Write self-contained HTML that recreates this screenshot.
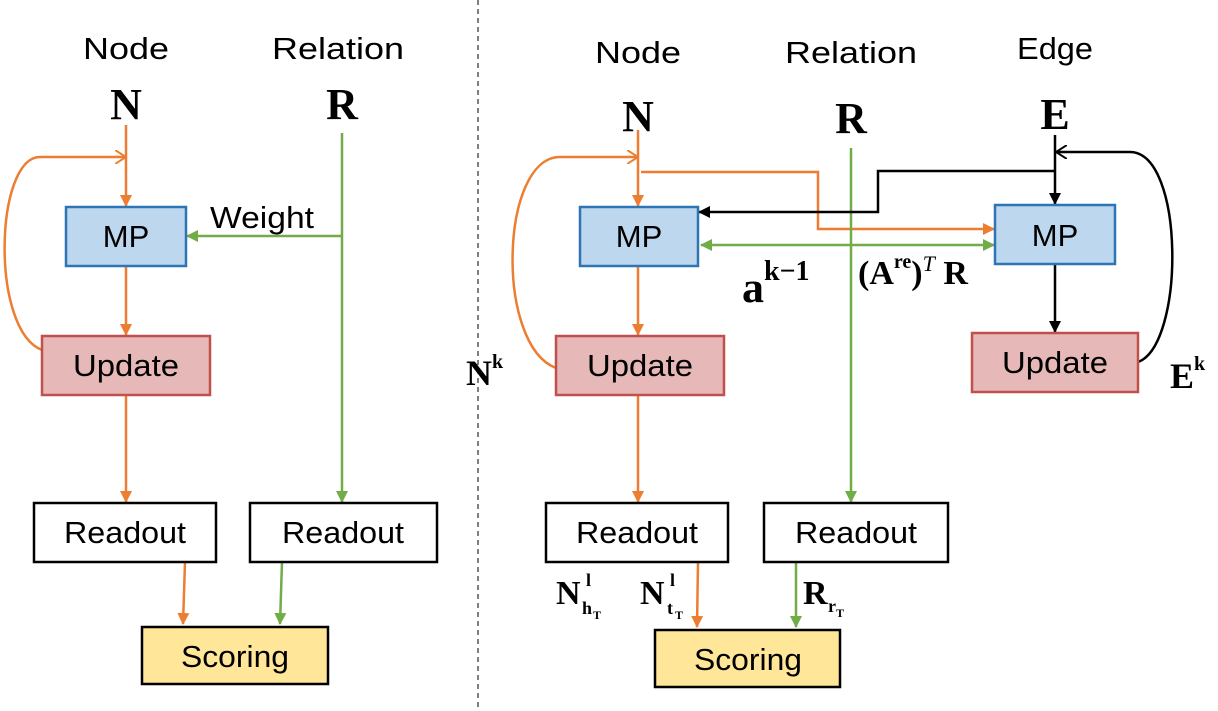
<!DOCTYPE html>
<html><head><meta charset="utf-8"><style>
html,body{margin:0;padding:0;background:#fff}
svg{display:block}
.t{font-family:"Liberation Sans",sans-serif;font-size:31px;fill:#000}
.b{font-family:"Liberation Serif",serif;font-weight:bold;fill:#000}
</style></head><body>
<svg width="1218" height="711" viewBox="0 0 1218 711" xmlns="http://www.w3.org/2000/svg">
<defs>
<marker id="ao" markerWidth="12" markerHeight="12" refX="11" refY="6" orient="auto" markerUnits="userSpaceOnUse"><path d="M0,0 L12,6 L0,12 z" fill="#ED7D31"/></marker>
<marker id="ag" markerWidth="12" markerHeight="12" refX="11" refY="6" orient="auto" markerUnits="userSpaceOnUse"><path d="M0,0 L12,6 L0,12 z" fill="#70AD47"/></marker>
<marker id="agr" markerWidth="12" markerHeight="12" refX="1" refY="6" orient="auto" markerUnits="userSpaceOnUse"><path d="M12,0 L0,6 L12,12 z" fill="#70AD47"/></marker>
<marker id="ak" markerWidth="12" markerHeight="12" refX="11" refY="6" orient="auto" markerUnits="userSpaceOnUse"><path d="M0,0 L12,6 L0,12 z" fill="#000"/></marker>
<marker id="oo" markerWidth="12" markerHeight="14" refX="11" refY="7" orient="auto" markerUnits="userSpaceOnUse"><path d="M0,0 L11,7 L0,14" fill="none" stroke="#ED7D31" stroke-width="2"/></marker>
<marker id="ok" markerWidth="12" markerHeight="14" refX="11" refY="7" orient="auto" markerUnits="userSpaceOnUse"><path d="M0,0 L11,7 L0,14" fill="none" stroke="#000" stroke-width="2"/></marker>
</defs>
<g fill="none" stroke-width="2.5">
<line x1="126" y1="125" x2="126" y2="206" stroke="#ED7D31" marker-end="url(#ao)"/>
<path d="M42,350 C-10,330 -5,157 40,157 L126,157" stroke="#ED7D31" marker-end="url(#oo)"/>
<line x1="126" y1="266" x2="126" y2="335" stroke="#ED7D31" marker-end="url(#ao)"/>
<line x1="126" y1="395" x2="126" y2="502" stroke="#ED7D31" marker-end="url(#ao)"/>
<line x1="342" y1="133" x2="342" y2="502" stroke="#70AD47" marker-end="url(#ag)"/>
<line x1="342" y1="236" x2="187" y2="236" stroke="#70AD47" marker-end="url(#ag)"/>
<line x1="185" y1="562" x2="183" y2="624" stroke="#ED7D31" marker-end="url(#ao)"/>
<line x1="282" y1="562" x2="280" y2="624" stroke="#70AD47" marker-end="url(#ag)"/>
<line x1="638" y1="130" x2="638" y2="206" stroke="#ED7D31" marker-end="url(#ao)"/>
<path d="M556,368 C495,345 500,157 560,157 L638,157" stroke="#ED7D31" marker-end="url(#oo)"/>
<path d="M641,172 L818,172 L818,229 L994,229" stroke="#ED7D31" marker-end="url(#ao)"/>
<line x1="851" y1="148" x2="851" y2="502" stroke="#70AD47" marker-end="url(#ag)"/>
<line x1="701" y1="245" x2="994" y2="245" stroke="#70AD47" marker-end="url(#ag)" marker-start="url(#agr)"/>
<line x1="1055" y1="135" x2="1055" y2="204" stroke="#000" marker-end="url(#ak)"/>
<path d="M1055,171 L878,171 L878,212 L699,212" stroke="#000" marker-end="url(#ak)"/>
<path d="M1138,362 C1185,345 1185,152 1130,152 L1056,152" stroke="#000" marker-end="url(#ok)"/>
<line x1="1055" y1="264" x2="1055" y2="332" stroke="#000" marker-end="url(#ak)"/>
<line x1="638" y1="266" x2="638" y2="335" stroke="#ED7D31" marker-end="url(#ao)"/>
<line x1="638" y1="395" x2="638" y2="502" stroke="#ED7D31" marker-end="url(#ao)"/>
<line x1="698" y1="562" x2="697" y2="627" stroke="#ED7D31" marker-end="url(#ao)"/>
<line x1="796" y1="562" x2="796" y2="627" stroke="#70AD47" marker-end="url(#ag)"/>
</g>
<line x1="478" y1="0" x2="478" y2="711" stroke="#000" stroke-width="1" stroke-dasharray="5,4"/>
<g stroke-width="2.5">
<rect x="66" y="207" width="120" height="59" fill="#BDD7EE" stroke="#2E75B6"/>
<rect x="42" y="336" width="168" height="59" fill="#E6B9B8" stroke="#C0504D"/>
<rect x="34" y="503" width="182" height="59" fill="#fff" stroke="#000"/>
<rect x="250" y="503" width="187" height="59" fill="#fff" stroke="#000"/>
<rect x="142" y="627" width="186" height="57" fill="#FFE699" stroke="#000"/>
<rect x="580" y="207" width="118" height="59" fill="#BDD7EE" stroke="#2E75B6"/>
<rect x="995" y="205" width="120" height="59" fill="#BDD7EE" stroke="#2E75B6"/>
<rect x="556" y="336" width="168" height="59" fill="#E6B9B8" stroke="#C0504D"/>
<rect x="972" y="333" width="166" height="59" fill="#E6B9B8" stroke="#C0504D"/>
<rect x="546" y="503" width="182" height="59" fill="#fff" stroke="#000"/>
<rect x="764" y="503" width="184" height="59" fill="#fff" stroke="#000"/>
<rect x="655" y="630" width="185" height="57" fill="#FFE699" stroke="#000"/>
</g>
<g class="t" text-anchor="middle" lengthAdjust="spacingAndGlyphs">
<text x="126" y="59" textLength="86" lengthAdjust="spacingAndGlyphs">Node</text><text x="338" y="59" textLength="132" lengthAdjust="spacingAndGlyphs">Relation</text>
<text x="126" y="247">MP</text><text x="126" y="376" textLength="106" lengthAdjust="spacingAndGlyphs">Update</text>
<text x="125" y="543" textLength="122" lengthAdjust="spacingAndGlyphs">Readout</text><text x="343" y="543" textLength="122" lengthAdjust="spacingAndGlyphs">Readout</text>
<text x="235" y="667" textLength="108" lengthAdjust="spacingAndGlyphs">Scoring</text>
<text x="262" y="228" textLength="104" lengthAdjust="spacingAndGlyphs">Weight</text>
<text x="638" y="63" textLength="86" lengthAdjust="spacingAndGlyphs">Node</text><text x="851" y="63" textLength="132" lengthAdjust="spacingAndGlyphs">Relation</text><text x="1055" y="59" textLength="76" lengthAdjust="spacingAndGlyphs">Edge</text>
<text x="639" y="247">MP</text><text x="1055" y="246">MP</text>
<text x="640" y="376" textLength="106" lengthAdjust="spacingAndGlyphs">Update</text><text x="1055" y="373" textLength="106" lengthAdjust="spacingAndGlyphs">Update</text>
<text x="637" y="543" textLength="122" lengthAdjust="spacingAndGlyphs">Readout</text><text x="856" y="543" textLength="122" lengthAdjust="spacingAndGlyphs">Readout</text>
<text x="748" y="670" textLength="108" lengthAdjust="spacingAndGlyphs">Scoring</text>
</g>
<g class="b" text-anchor="middle" font-size="44">
<text x="126" y="119">N</text><text x="342" y="119">R</text>
<text x="638" y="131">N</text><text x="851" y="133">R</text><text x="1055" y="129">E</text>
</g>
<g class="b">
<text x="742" y="302" font-size="44">a<tspan font-size="28" dy="-22">k−1</tspan></text>
<text x="858" y="284" font-size="34">(A<tspan font-size="20" dy="-16">re</tspan><tspan dy="16">)</tspan><tspan font-size="22" font-style="italic" font-weight="normal" dy="-13">T</tspan><tspan dy="13"> R</tspan></text>
<text x="466" y="385" font-size="36">N<tspan font-size="20" dy="-17">k</tspan></text>
<text x="1170" y="388" font-size="36">E<tspan font-size="20" dy="-18">k</tspan></text>
<text x="556" y="604" font-size="34">N</text><text x="586" y="586" font-size="18">l</text><text x="582" y="614" font-size="18">h</text><text x="593" y="619" font-size="12">T</text>
<text x="640" y="604" font-size="34">N</text><text x="670" y="586" font-size="18">l</text><text x="667" y="614" font-size="18">t</text><text x="675" y="619" font-size="12">T</text>
<text x="803" y="604" font-size="34">R</text><text x="828" y="612" font-size="18">r</text><text x="836" y="617" font-size="12">T</text>
</g>
</svg>
</body></html>
